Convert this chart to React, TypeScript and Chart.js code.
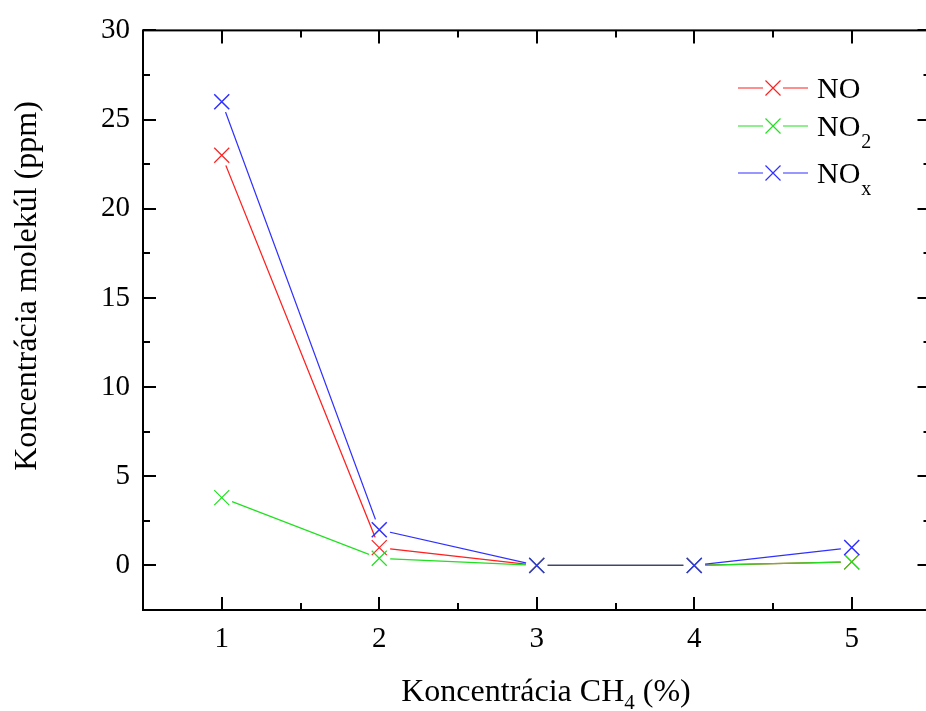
import React, { useEffect, useRef } from 'react';
import { Chart, registerables } from 'chart.js';

Chart.register(...registerables);

const xValues = [1, 2, 3, 4, 5];
const noValues = [23, 1, 0, 0, 0.2];
const no2Values = [3.8, 0.4, 0, 0, 0.2];
const noxValues = [26, 2, 0, 0, 1];

const xTickValues = [1, 2, 3, 4, 5];
const xMinorValues = [1.5, 2.5, 3.5, 4.5];
const yTickValues = [0, 5, 10, 15, 20, 25, 30];
const yMinorValues = [2.5, 7.5, 12.5, 17.5, 22.5, 27.5];

const seriesNames = ['NO', 'NO', 'NO'];
const seriesSubs = ['', '2', 'x'];
const seriesColors = ['#ff2020', '#20e020', '#3030ff'];

const xTitleMain = 'Koncentrácia CH';
const xTitleSub = '4';
const xTitleEnd = ' (%)';
const yTitle = 'Koncentrácia molekúl (ppm)';

const FONT = "'Liberation Serif', 'Times New Roman', serif";
const W = 950;
const H = 711;

export default function App() {
  const ref = useRef<HTMLCanvasElement | null>(null);

  useEffect(() => {
    const canvas = ref.current;
    if (!canvas) return;

    const gapPlugin = {
      id: 'gapPlugin',
      beforeDatasetDraw(chart: any, args: any) {
        const meta = args.meta;
        const ctx = chart.ctx;
        ctx.save();
        ctx.beginPath();
        ctx.rect(0, 0, chart.width, chart.height);
        meta.data.forEach((p: any) => {
          ctx.moveTo(p.x + 11, p.y);
          ctx.arc(p.x, p.y, 11, 0, Math.PI * 2, true);
        });
        ctx.clip('evenodd');
      },
      afterDatasetDraw(chart: any, args: any) {
        const ctx = chart.ctx;
        ctx.restore();
        const meta = args.meta;
        const ds = chart.data.datasets[args.index];
        ctx.save();
        ctx.strokeStyle = ds.borderColor;
        ctx.lineWidth = args.index === 2 ? 1.5 : 1.2;
        meta.data.forEach((p: any) => {
          const r = 7.5;
          ctx.beginPath();
          ctx.moveTo(p.x - r, p.y - r);
          ctx.lineTo(p.x + r, p.y + r);
          ctx.moveTo(p.x - r, p.y + r);
          ctx.lineTo(p.x + r, p.y - r);
          ctx.stroke();
        });
        ctx.restore();
      },
    };

    const framePlugin = {
      id: 'framePlugin',
      afterDraw(chart: any) {
        const ctx = chart.ctx;
        const a = chart.chartArea;
        const xs = chart.scales.x;
        const ys = chart.scales.y;
        ctx.save();
        ctx.strokeStyle = '#000';
        ctx.lineWidth = 2;
        ctx.strokeRect(a.left, a.top, a.right - a.left, a.bottom - a.top);
        const major = 13;
        const minor = 7;
        ctx.beginPath();
        const xt = (v: number, len: number) => {
          const px = Math.round(xs.getPixelForValue(v));
          ctx.moveTo(px, a.bottom);
          ctx.lineTo(px, a.bottom - len);
          ctx.moveTo(px, a.top);
          ctx.lineTo(px, a.top + len);
        };
        const yt = (v: number, len: number) => {
          const py = Math.round(ys.getPixelForValue(v));
          ctx.moveTo(a.left, py);
          ctx.lineTo(a.left + len, py);
          ctx.moveTo(a.right, py);
          ctx.lineTo(a.right - len, py);
        };
        xTickValues.forEach((v) => xt(v, major));
        xMinorValues.forEach((v) => xt(v, minor));
        yTickValues.forEach((v) => yt(v, major));
        yMinorValues.forEach((v) => yt(v, minor));
        ctx.stroke();

        // X title
        ctx.fillStyle = '#000';
        ctx.textBaseline = 'alphabetic';
        ctx.textAlign = 'left';
        const mainF = `32px ${FONT}`;
        const subF = `21px ${FONT}`;
        ctx.font = mainF;
        const w1 = ctx.measureText(xTitleMain).width;
        const w3 = ctx.measureText(xTitleEnd).width;
        ctx.font = subF;
        const w2 = ctx.measureText(xTitleSub).width;
        const total = w1 + w2 + w3;
        const x0 = 546 - total / 2;
        const by = 701;
        ctx.font = mainF;
        ctx.fillText(xTitleMain, x0, by);
        ctx.font = subF;
        ctx.fillText(xTitleSub, x0 + w1, by + 8);
        ctx.font = mainF;
        ctx.fillText(xTitleEnd, x0 + w1 + w2, by);

        // Y title
        ctx.save();
        ctx.translate(36, 286);
        ctx.rotate(-Math.PI / 2);
        ctx.textAlign = 'center';
        ctx.font = mainF;
        ctx.fillText(yTitle, 0, 0);
        ctx.restore();

        // Legend
        const rowsY = [88, 126, 173];
        seriesNames.forEach((name, i) => {
          const ly = rowsY[i];
          ctx.strokeStyle = seriesColors[i];
          ctx.lineWidth = 1.2;
          ctx.beginPath();
          ctx.moveTo(738, ly);
          ctx.lineTo(763, ly);
          ctx.moveTo(783, ly);
          ctx.lineTo(808, ly);
          const cx = 773;
          const r = 7.5;
          ctx.moveTo(cx - r, ly - r);
          ctx.lineTo(cx + r, ly + r);
          ctx.moveTo(cx - r, ly + r);
          ctx.lineTo(cx + r, ly - r);
          ctx.stroke();
          ctx.fillStyle = '#000';
          ctx.font = `30px ${FONT}`;
          ctx.textAlign = 'left';
          ctx.fillText(name, 817, ly + 10);
          const nw = ctx.measureText(name).width;
          if (seriesSubs[i]) {
            ctx.font = `20px ${FONT}`;
            ctx.fillText(seriesSubs[i], 817 + nw + 1, ly + 22);
          }
        });
        ctx.restore();
      },
    };

    const chart = new Chart(canvas, {
      type: 'line',
      data: {
        datasets: [
          {
            label: 'NO',
            data: xValues.map((x, i) => ({ x, y: noValues[i] })),
            borderColor: seriesColors[0],
            borderWidth: 1.2,
            pointRadius: 0,
            tension: 0,
            order: 2,
          },
          {
            label: 'NO2',
            data: xValues.map((x, i) => ({ x, y: no2Values[i] })),
            borderColor: seriesColors[1],
            borderWidth: 1.2,
            pointRadius: 0,
            tension: 0,
            order: 1,
          },
          {
            label: 'NOx',
            data: xValues.map((x, i) => ({ x, y: noxValues[i] })),
            borderColor: seriesColors[2],
            borderWidth: 1.2,
            pointRadius: 0,
            tension: 0,
            order: 0,
          },
        ],
      },
      options: {
        responsive: false,
        animation: false,
        devicePixelRatio: 1,
        layout: { padding: { top: 28, right: W - 930.5, left: 0, bottom: 0 } },
        plugins: {
          legend: { display: false },
          tooltip: { enabled: false },
        },
        scales: {
          x: {
            type: 'linear',
            min: 0.5,
            max: 5.5,
            grid: { display: false, drawTicks: false },
            border: { display: false },
            afterBuildTicks: (s: any) => {
              s.ticks = xTickValues.map((v) => ({ value: v }));
            },
            afterFit: (s: any) => {
              s.height = H - 610;
            },
            ticks: {
              padding: 12,
              color: '#000',
              font: { family: FONT, size: 29 },
              maxRotation: 0,
              callback: (v: any) => String(v),
            },
          },
          y: {
            type: 'linear',
            min: -2.5,
            max: 30,
            grid: { display: false, drawTicks: false },
            border: { display: false },
            afterBuildTicks: (s: any) => {
              s.ticks = yTickValues.map((v) => ({ value: v }));
            },
            afterFit: (s: any) => {
              s.width = 143;
            },
            ticks: {
              padding: 13,
              color: '#000',
              font: { family: FONT, size: 29 },
              callback: (v: any) => String(v),
            },
          },
        },
      },
      plugins: [gapPlugin, framePlugin],
    } as any);

    return () => chart.destroy();
  }, []);

  return (
    <div style={{ position: 'fixed', left: 0, top: 0, width: 926, height: 711, overflow: 'hidden', background: '#fff' }}>
      <canvas ref={ref} width={W} height={H} style={{ display: 'block', width: W, height: H }} />
    </div>
  );
}
